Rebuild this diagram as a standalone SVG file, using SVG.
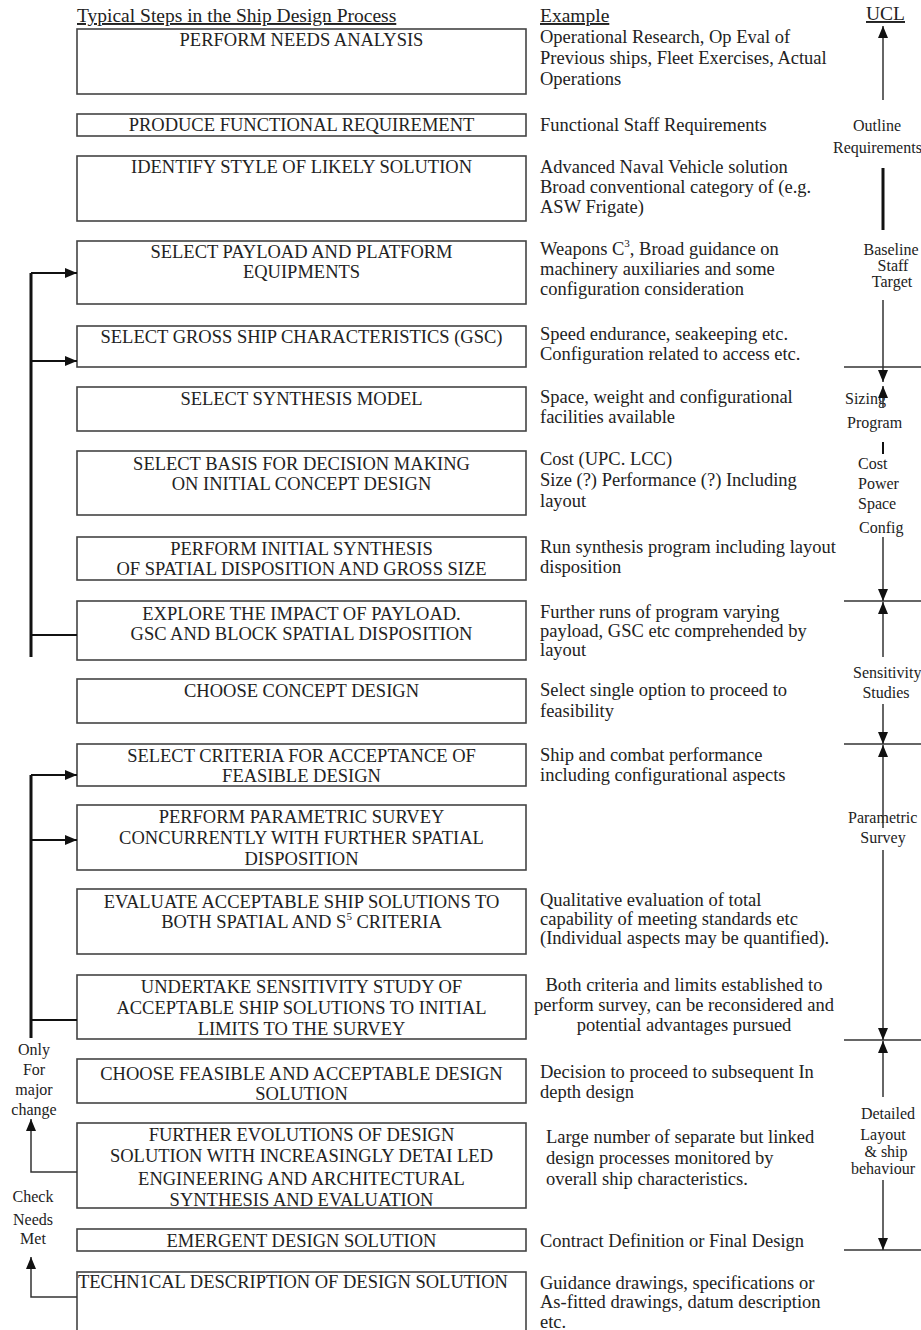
<svg xmlns="http://www.w3.org/2000/svg" width="921" height="1330" viewBox="0 0 921 1330">
<defs>
<style>
text{font-family:"Liberation Serif","Times New Roman",serif;fill:#222}
.hd{font-size:19.5px;text-decoration:underline}
.bx{fill:#fff;stroke:#444;stroke-width:1.6}
.bt{font-size:18.5px;text-anchor:middle}
.bl{font-size:18.5px;text-anchor:start}
.ex{font-size:18.5px}
.ucl{font-size:16px}
.side{font-size:16px;text-anchor:middle}
.thick{stroke:#111;stroke-width:3;fill:none}
.ln{stroke:#111;stroke-width:2;fill:none}
.thin{stroke:#333;stroke-width:1.5;fill:none}
</style>
<marker id="ah" viewBox="0 0 12 10" refX="12" refY="5" markerWidth="12" markerHeight="10" markerUnits="userSpaceOnUse" orient="auto">
<path d="M0,0 L12,5 L0,10 Z" fill="#111"/>
</marker>
</defs>
<rect width="921" height="1330" fill="#fff"/>

<g id="headers">
<text class="hd" x="77" y="22">Typical Steps in the Ship Design Process</text>
<text class="hd" x="540" y="22">Example</text>
<text class="hd" x="866" y="20" font-size="15.5">UCL</text>
</g>

<g id="n1"><rect class="bx" x="77" y="29" width="449" height="65"/>
<text class="bt" x="301.5" y="46">PERFORM NEEDS ANALYSIS</text>
<text class="ex" x="540" y="43">Operational Research, Op Eval of</text>
<text class="ex" x="540" y="64">Previous ships, Fleet Exercises, Actual</text>
<text class="ex" x="540" y="85">Operations</text></g>

<g id="n2"><rect class="bx" x="77" y="114" width="449" height="22"/>
<text class="bt" x="301.5" y="131">PRODUCE FUNCTIONAL REQUIREMENT</text>
<text class="ex" x="540" y="131">Functional Staff Requirements</text></g>

<g id="n3"><rect class="bx" x="77" y="156" width="449" height="65"/>
<text class="bt" x="301.5" y="173">IDENTIFY STYLE OF LIKELY SOLUTION</text>
<text class="ex" x="540" y="173">Advanced Naval Vehicle solution</text>
<text class="ex" x="540" y="193">Broad conventional category of (e.g.</text>
<text class="ex" x="540" y="213">ASW Frigate)</text></g>

<g id="n4"><rect class="bx" x="77" y="241" width="449" height="63"/>
<text class="bt" x="301.5" y="258">SELECT PAYLOAD AND PLATFORM</text>
<text class="bt" x="301.5" y="278">EQUIPMENTS</text>
<text class="ex" x="540" y="255">Weapons C<tspan font-size="11" dy="-8">3</tspan><tspan dy="8">, Broad guidance on</tspan></text>
<text class="ex" x="540" y="275">machinery auxiliaries and some</text>
<text class="ex" x="540" y="295">configuration consideration</text></g>

<g id="n5"><rect class="bx" x="77" y="326" width="449" height="41"/>
<text class="bt" x="301.5" y="343">SELECT GROSS SHIP CHARACTERISTICS (GSC)</text>
<text class="ex" x="540" y="340">Speed endurance, seakeeping etc.</text>
<text class="ex" x="540" y="360">Configuration related to access etc.</text></g>

<g id="n6"><rect class="bx" x="77" y="387" width="449" height="44"/>
<text class="bt" x="301.5" y="405">SELECT SYNTHESIS MODEL</text>
<text class="ex" x="540" y="403">Space, weight and configurational</text>
<text class="ex" x="540" y="423">facilities available</text></g>

<g id="n7"><rect class="bx" x="77" y="451" width="449" height="64"/>
<text class="bt" x="301.5" y="470">SELECT BASIS FOR DECISION MAKING</text>
<text class="bt" x="301.5" y="490">ON INITIAL CONCEPT DESIGN</text>
<text class="ex" x="540" y="465">Cost (UPC. LCC)</text>
<text class="ex" x="540" y="486">Size (?) Performance (?) Including</text>
<text class="ex" x="540" y="507">layout</text></g>

<g id="n8"><rect class="bx" x="77" y="537" width="449" height="43"/>
<text class="bt" x="301.5" y="555">PERFORM INITIAL SYNTHESIS</text>
<text class="bt" x="301.5" y="575">OF SPATIAL DISPOSITION AND GROSS SIZE</text>
<text class="ex" x="540" y="553">Run synthesis program including layout</text>
<text class="ex" x="540" y="573">disposition</text></g>

<g id="n9"><rect class="bx" x="77" y="601" width="449" height="59"/>
<text class="bt" x="301.5" y="620">EXPLORE THE IMPACT OF PAYLOAD.</text>
<text class="bt" x="301.5" y="640">GSC AND BLOCK SPATIAL DISPOSITION</text>
<text class="ex" x="540" y="618">Further runs of program varying</text>
<text class="ex" x="540" y="637">payload, GSC etc comprehended by</text>
<text class="ex" x="540" y="656">layout</text></g>

<g id="n10"><rect class="bx" x="77" y="679" width="449" height="44"/>
<text class="bt" x="301.5" y="697">CHOOSE CONCEPT DESIGN</text>
<text class="ex" x="540" y="696">Select single option to proceed to</text>
<text class="ex" x="540" y="717">feasibility</text></g>

<g id="n11"><rect class="bx" x="77" y="744" width="449" height="42"/>
<text class="bt" x="301.5" y="762">SELECT CRITERIA FOR ACCEPTANCE OF</text>
<text class="bt" x="301.5" y="782">FEASIBLE DESIGN</text>
<text class="ex" x="540" y="761">Ship and combat performance</text>
<text class="ex" x="540" y="781">including configurational aspects</text></g>

<g id="n12"><rect class="bx" x="77" y="805" width="449" height="65"/>
<text class="bt" x="301.5" y="823">PERFORM PARAMETRIC SURVEY</text>
<text class="bt" x="301.5" y="844">CONCURRENTLY WITH FURTHER SPATIAL</text>
<text class="bt" x="301.5" y="865">DISPOSITION</text></g>

<g id="n13"><rect class="bx" x="77" y="889" width="449" height="65"/>
<text class="bt" x="301.5" y="908">EVALUATE ACCEPTABLE SHIP SOLUTIONS TO</text>
<text class="bt" x="301.5" y="928">BOTH SPATIAL AND S<tspan font-size="11" dy="-8">5</tspan><tspan dy="8"> CRITERIA</tspan></text>
<text class="ex" x="540" y="906">Qualitative evaluation of total</text>
<text class="ex" x="540" y="925">capability of meeting standards etc</text>
<text class="ex" x="540" y="944">(Individual aspects may be quantified).</text></g>

<g id="n14"><rect class="bx" x="77" y="975" width="449" height="64"/>
<text class="bt" x="301.5" y="993">UNDERTAKE SENSITIVITY STUDY OF</text>
<text class="bt" x="301.5" y="1014">ACCEPTABLE SHIP SOLUTIONS TO INITIAL</text>
<text class="bt" x="301.5" y="1035">LIMITS TO THE SURVEY</text>
<text class="ex" x="684" y="991" text-anchor="middle">Both criteria and limits established to</text>
<text class="ex" x="684" y="1011" text-anchor="middle">perform survey, can be reconsidered and</text>
<text class="ex" x="684" y="1031" text-anchor="middle">potential advantages pursued</text></g>

<g id="n15"><rect class="bx" x="77" y="1059" width="449" height="44"/>
<text class="bt" x="301.5" y="1080">CHOOSE FEASIBLE AND ACCEPTABLE DESIGN</text>
<text class="bt" x="301.5" y="1100">SOLUTION</text>
<text class="ex" x="540" y="1078">Decision to proceed to subsequent In</text>
<text class="ex" x="540" y="1098">depth design</text></g>

<g id="n16"><rect class="bx" x="77" y="1123" width="449" height="85"/>
<text class="bt" x="301.5" y="1141">FURTHER EVOLUTIONS OF DESIGN</text>
<text class="bt" x="301.5" y="1162">SOLUTION WITH INCREASINGLY DETAI LED</text>
<text class="bt" x="301.5" y="1185">ENGINEERING AND ARCHITECTURAL</text>
<text class="bt" x="301.5" y="1206">SYNTHESIS AND EVALUATION</text>
<text class="ex" x="546" y="1143">Large number of separate but linked</text>
<text class="ex" x="546" y="1164">design processes monitored by</text>
<text class="ex" x="546" y="1185">overall ship characteristics.</text></g>

<g id="n17"><rect class="bx" x="77" y="1229" width="449" height="22"/>
<text class="bt" x="301.5" y="1247">EMERGENT DESIGN SOLUTION</text>
<text class="ex" x="540" y="1247">Contract Definition or Final Design</text></g>

<g id="n18"><rect class="bx" x="77" y="1272" width="449" height="80"/>
<text class="bl" x="78" y="1288">TECHN1CAL DESCRIPTION OF DESIGN SOLUTION</text>
<text class="ex" x="540" y="1289">Guidance drawings, specifications or</text>
<text class="ex" x="540" y="1308">As-fitted drawings, datum description</text>
<text class="ex" x="540" y="1328">etc.</text></g>

<g id="side-labels">
<text class="side" x="34" y="1055">Only</text>
<text class="side" x="34" y="1075">For</text>
<text class="side" x="34" y="1095">major</text>
<text class="side" x="34" y="1115">change</text>
<text class="side" x="33" y="1202">Check</text>
<text class="side" x="33" y="1225">Needs</text>
<text class="side" x="33" y="1244">Met</text>
</g>

<g id="ucl-labels">
<text class="ucl" x="877" y="131" font-size="14" text-anchor="middle">Outline</text>
<text class="ucl" x="833" y="153" font-size="15">Requirements</text>
<text class="ucl" x="891" y="255" font-size="14" text-anchor="middle">Baseline</text>
<text class="ucl" x="893" y="271" font-size="14" text-anchor="middle">Staff</text>
<text class="ucl" x="892" y="287" font-size="14" text-anchor="middle">Target</text>
<text class="ucl" x="845" y="404" font-size="20">Sizing</text>
<text class="ucl" x="847" y="428" font-size="20">Program</text>
<text class="ucl" x="858" y="469" font-size="17.5">Cost</text>
<text class="ucl" x="858" y="489" font-size="17.5">Power</text>
<text class="ucl" x="858" y="509" font-size="17.5">Space</text>
<text class="ucl" x="859" y="533" font-size="16">Config</text>
<text class="ucl" x="853" y="678" font-size="16">Sensitivity</text>
<text class="ucl" x="886" y="698" font-size="18" text-anchor="middle">Studies</text>
<text class="ucl" x="848" y="823" font-size="16">Parametric</text>
<text class="ucl" x="883" y="843" font-size="15" text-anchor="middle">Survey</text>
<text class="ucl" x="888" y="1119" font-size="16" text-anchor="middle">Detailed</text>
<text class="ucl" x="883" y="1140" font-size="14" text-anchor="middle">Layout</text>
<text class="ucl" x="886" y="1157" font-size="16" text-anchor="middle">&amp; ship</text>
<text class="ucl" x="851" y="1174" font-size="17">behaviour</text>
</g>

<g id="connectors">
<!-- upper feedback loop -->
<path class="thick" d="M31,273 V657"/>
<path class="ln" d="M31,273 H77" marker-end="url(#ah)"/>
<path class="ln" d="M31,361 H77" marker-end="url(#ah)"/>
<path class="ln" d="M31,635 H77"/>
<!-- lower feedback loop -->
<path class="thick" d="M31,775 V1038"/>
<path class="ln" d="M31,775 H77" marker-end="url(#ah)"/>
<path class="ln" d="M31,840 H77" marker-end="url(#ah)"/>
<path class="ln" d="M31,1020 H77"/>
<!-- only for major change -->
<path class="thin" d="M77,1172 H31 V1119" marker-end="url(#ah)"/>
<!-- check needs met -->
<path class="thin" d="M77,1297 H31 V1257" marker-end="url(#ah)"/>

<!-- UCL column -->
<path class="thin" d="M883,100 V26" marker-end="url(#ah)"/>
<path class="thick" d="M883,168 V230"/>
<path class="thin" d="M844,367 H921"/>
<path class="thin" d="M883,300 V382" marker-end="url(#ah)"/>
<path class="thin" d="M883,408 V386" marker-end="url(#ah)"/>
<path class="ln" d="M883,442 V454"/>
<path class="thin" d="M844,601 H921"/>
<path class="thin" d="M883,537 V601" marker-end="url(#ah)"/>
<path class="thin" d="M883,657 V602" marker-end="url(#ah)"/>
<path class="thin" d="M844,744 H921"/>
<path class="thin" d="M883,704 V744" marker-end="url(#ah)"/>
<path class="thin" d="M883,828 V745" marker-end="url(#ah)"/>
<path class="thin" d="M844,1040 H921"/>
<path class="thin" d="M883,850 V1040" marker-end="url(#ah)"/>
<path class="thin" d="M883,1097 V1041" marker-end="url(#ah)"/>
<path class="thin" d="M844,1250 H921"/>
<path class="thin" d="M883,1180 V1250" marker-end="url(#ah)"/>
</g>
</svg>
